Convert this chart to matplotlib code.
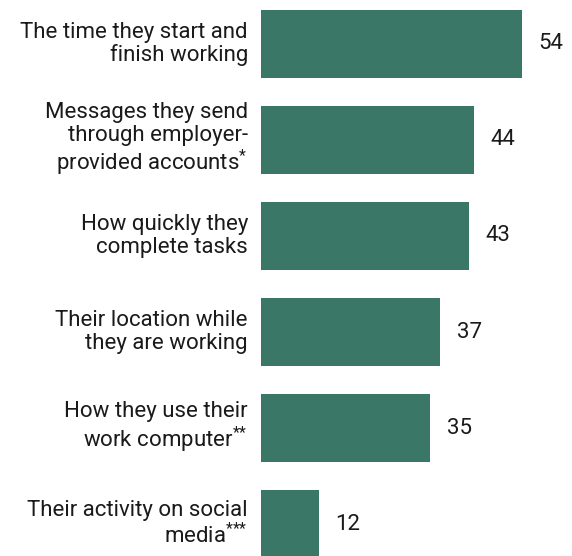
import matplotlib.pyplot as plt

plt.rcParams['font.family'] = ['Roboto', 'DejaVu Sans']
plt.rcParams['mathtext.default'] = 'regular'

# Share of workers whose employer monitors each activity (%)
labels = [
    "The time they start and\nfinish working",
    "Messages they send\nthrough employer-\nprovided accounts$^{*}$",
    "How quickly they\ncomplete tasks",
    "Their location while\nthey are working",
    "How they use their\nwork computer$^{{*}{*}}$",
    "Their activity on social\nmedia$^{{*}{*}{*}}$",
]
values = [54, 44, 43, 37, 35, 12]

bar_color = "#3a7766"
text_color = "#1a1a1a"

fig = plt.figure(figsize=(5.72, 5.56), dpi=100)
ax = fig.add_axes([261 / 572, 0, 261 / 572, 1])

pos = list(range(len(values)))
ax.barh(pos, values, height=0.71, color=bar_color)
ax.set_xlim(0, 54)
ax.set_ylim(5.333, -0.458)
ax.axis("off")

for y, v, lab in zip(pos, values, labels):
    ax.annotate(lab, xy=(0, y), xytext=(-9.4, 0), textcoords="offset points",
                ha="right", va="center", multialignment="right",
                fontsize=16, color=text_color, linespacing=1.1,
                annotation_clip=False)
    ax.annotate(str(v), xy=(v, y), xytext=(12, 0), textcoords="offset points",
                ha="left", va="center", fontsize=16, color=text_color,
                annotation_clip=False)

fig.savefig("out.png", dpi=100)
